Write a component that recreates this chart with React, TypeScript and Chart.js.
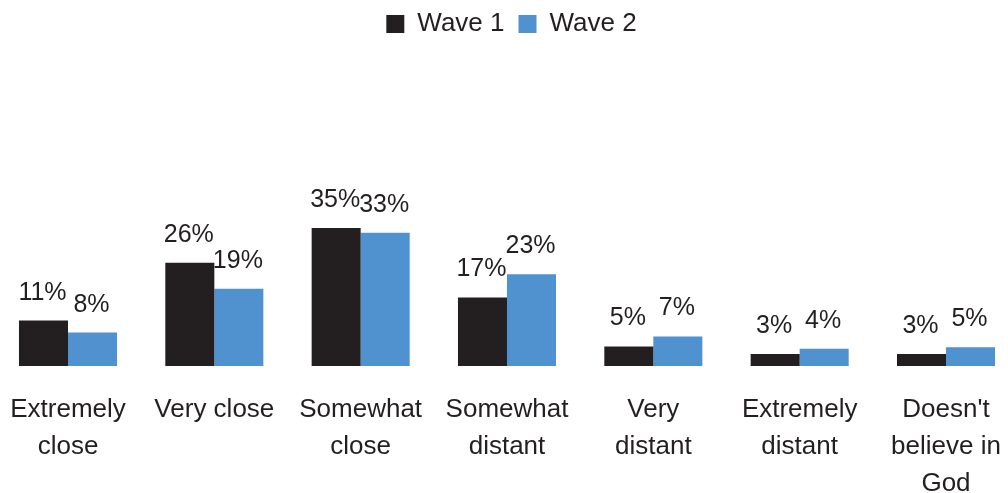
import React, { useEffect, useRef } from "react";
import { Chart, registerables } from "chart.js";

Chart.register(...registerables);

const categories: (string | string[])[] = [
  ["Extremely", "close"],
  "Very close",
  ["Somewhat", "close"],
  ["Somewhat", "distant"],
  ["Very", "distant"],
  ["Extremely", "distant"],
  ["Doesn't", "believe in", "God"],
];
const seriesNames = ["Wave 1", "Wave 2"];
const wave1 = [11.4, 25.9, 34.6, 17.2, 4.9, 3.0, 3.0];
const wave2 = [8.4, 19.4, 33.4, 23.0, 7.4, 4.3, 4.7];

const BLACK = "#231f20";
const BLUE = "#4f92cf";
const TEXT = "#231f20";
const FONT = "'Liberation Sans', Arial, Helvetica, sans-serif";

const valueLabels = {
  id: "valueLabels",
  afterDatasetsDraw(chart: any) {
    const ctx = chart.ctx as CanvasRenderingContext2D;
    ctx.save();
    ctx.font = `25px ${FONT}`;
    ctx.fillStyle = TEXT;
    ctx.textAlign = "center";
    ctx.textBaseline = "alphabetic";
    chart.data.datasets.forEach((ds: any, di: number) => {
      const meta = chart.getDatasetMeta(di);
      meta.data.forEach((bar: any, i: number) => {
        const v = ds.data[i] as number;
        ctx.fillText(Math.round(v) + "%", bar.x - 1, bar.y - 21);
      });
    });
    ctx.restore();
  },
};

export default function App() {
  const ref = useRef<HTMLCanvasElement | null>(null);
  useEffect(() => {
    if (!ref.current) return;
    const chart = new Chart(ref.current, {
      type: "bar",
      data: {
        labels: categories,
        datasets: [
          { label: seriesNames[0], data: wave1, backgroundColor: BLACK, borderWidth: 0 },
          { label: seriesNames[1], data: wave2, backgroundColor: BLUE, borderWidth: 0 },
        ],
      },
      options: {
        responsive: false,
        animation: false,
        events: [],
        layout: { padding: { top: -3, left: 68, right: 53, bottom: 0 } },
        datasets: {
          bar: { categoryPercentage: 0.67, barPercentage: 1, clip: false as any },
        },
        plugins: {
          legend: {
            display: true,
            position: "top",
            labels: {
              boxWidth: 18,
              boxHeight: 18,
              padding: 14,
              color: TEXT,
              font: { family: FONT, size: 26 },
            },
          },
          tooltip: { enabled: false },
          title: { display: false },
        },
        scales: {
          x: {
            offset: false,
            grid: { display: false, drawTicks: false },
            border: { display: false },
            ticks: {
              color: TEXT,
              padding: 25,
              maxRotation: 0,
              autoSkip: false,
              font: { family: FONT, size: 26, lineHeight: 37 / 26 },
            },
            afterFit: (scale: any) => {
              scale.height = 127;
              scale.paddingLeft = 0;
              scale.paddingRight = 62;
            },
          },
          y: {
            display: false,
            min: 0,
            max: 80,
          },
        },
      },
      plugins: [valueLabels],
    });
    return () => chart.destroy();
  }, []);
  return (
    <div style={{ position: "absolute", left: 0, top: 0, width: 1008, height: 493 }}>
      <canvas ref={ref} width={1008} height={493} style={{ display: "block" }} />
    </div>
  );
}
